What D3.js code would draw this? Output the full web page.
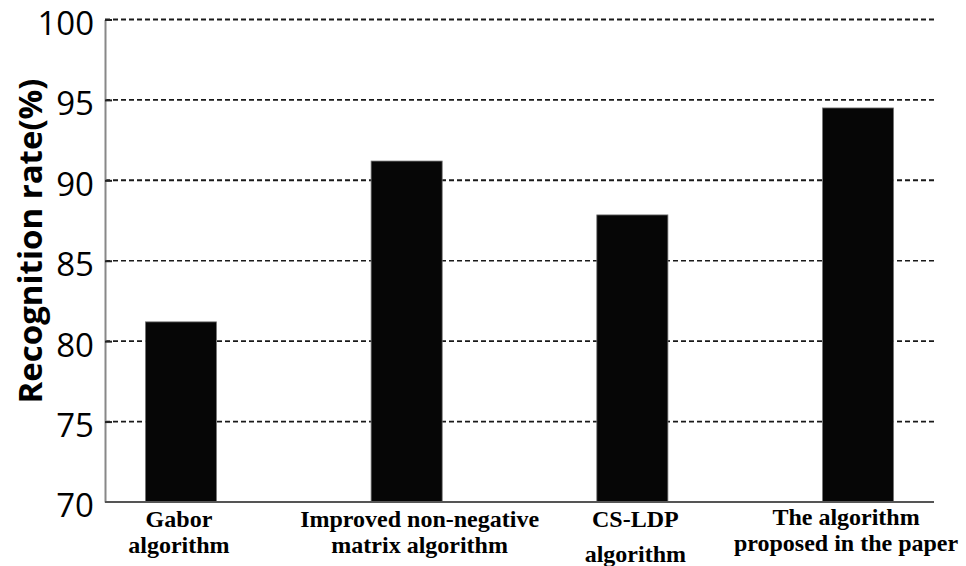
<!DOCTYPE html>
<html>
<head>
<meta charset="utf-8">
<script src="https://cdn.jsdelivr.net/npm/d3@7"></script>
<style>
  html, body { margin: 0; padding: 0; background: #fff; }
  svg { display: block; }
</style>
</head>
<body>
<svg id="chart" width="966" height="566"></svg>
<script>
// ---- data ----
const categories = [
  ["Gabor", "algorithm"],
  ["Improved non-negative", "matrix algorithm"],
  ["CS-LDP", "algorithm"],
  ["The algorithm", "proposed in the paper"]
];
const values = [81.2, 91.2, 87.85, 94.5];
const yTicks = [70, 75, 80, 85, 90, 95, 100];
const yTitle = "Recognition rate(%)";

// ---- layout ----
const svg = d3.select("#chart");
const plotLeft = 105, plotRight = 934, plotTop = 19.5, plotBottom = 502;

const x = d3.scaleBand()
  .domain(d3.range(categories.length))
  .range([plotLeft, plotRight])
  .paddingInner(0.685)
  .paddingOuter(0.179);

const y = d3.scaleLinear().domain([70, 100]).range([plotBottom, plotTop]);

// gridlines
svg.append("g").selectAll("line")
  .data(yTicks.filter(t => t > 70))
  .join("line")
  .attr("x1", plotLeft).attr("x2", plotRight)
  .attr("y1", d => y(d)).attr("y2", d => y(d))
  .attr("stroke", "#1a1a1a")
  .attr("stroke-width", d => (d === 100 || d === 90) ? 2 : 1.6)
  .attr("stroke-dasharray", "5,3");

// bars
svg.append("g").selectAll("rect")
  .data(values)
  .join("rect")
  .attr("x", (d, i) => x(i))
  .attr("width", x.bandwidth())
  .attr("y", d => y(d))
  .attr("height", d => y(70) - y(d))
  .attr("fill", "#060606")
  .attr("stroke", "#777")
  .attr("stroke-width", 0.8);

// y axis
const yAxis = d3.axisLeft(y).tickValues(yTicks).tickSizeInner(-7).tickSizeOuter(0).tickPadding(11);
const gy = svg.append("g").attr("transform", `translate(${plotLeft},0)`).call(yAxis);
gy.select(".domain").attr("stroke", "#888").attr("stroke-width", 2);
gy.selectAll(".tick line").attr("stroke", "#222").attr("stroke-width", 2)
  .filter(d => d === 70).remove();
gy.selectAll(".tick text")
  .attr("font-family", "'Open Sans', sans-serif")
  .attr("font-size", 33)
  .attr("fill", "#000")
  .attr("dy", "0.45em");

// x axis line
svg.append("line")
  .attr("x1", plotLeft).attr("x2", plotRight)
  .attr("y1", plotBottom).attr("y2", plotBottom)
  .attr("stroke", "#555").attr("stroke-width", 2);

// x labels
const labelPos = [
  { dx: -2, base: [527, 553] },
  { dx: 13, base: [527, 553] },
  { dx: 3, base: [527, 562] },
  { dx: -12, base: [525, 551] }
];
const gx = svg.append("g");
categories.forEach((lines, i) => {
  const cx = x(i) + x.bandwidth() / 2 + labelPos[i].dx;
  lines.forEach((t, j) => {
    gx.append("text")
      .attr("x", cx)
      .attr("y", labelPos[i].base[j])
      .attr("text-anchor", "middle")
      .attr("font-family", "'Liberation Serif', 'Times New Roman', serif")
      .attr("font-weight", "bold")
      .attr("font-size", 24)
      .attr("fill", "#000")
      .text(t);
  });
});

// y title
svg.append("text")
  .attr("transform", `translate(42,241) rotate(-90)`)
  .attr("text-anchor", "middle")
  .attr("font-family", "'Open Sans', sans-serif")
  .attr("font-weight", "bold")
  .attr("font-size", 33)
  .attr("fill", "#000")
  .text(yTitle);
</script>
</body>
</html>
